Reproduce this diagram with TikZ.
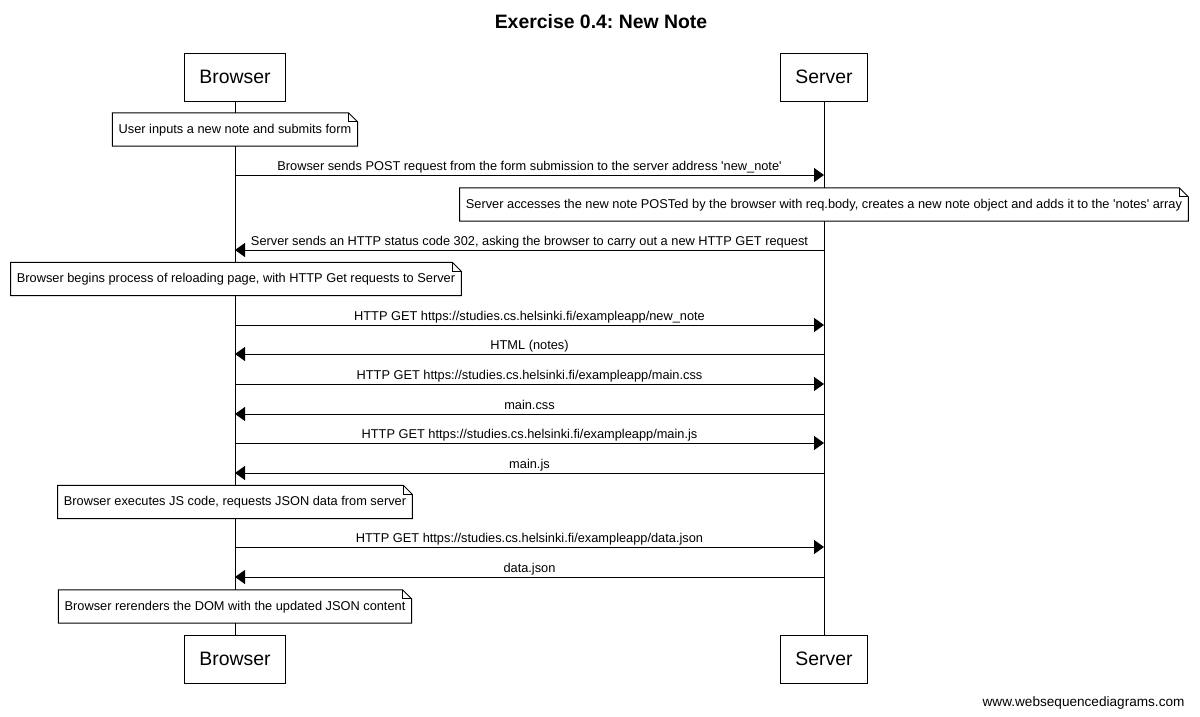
\documentclass[tikz,border=0pt]{standalone}
\usepackage{fontspec}
\setmainfont{Liberation Sans}
\usetikzlibrary{arrows.meta}
\frenchspacing

% note with a folded corner, centred on a lifeline
\newcommand{\seqnote}[4]{%
  \node[notetext] (#1) at (#2,#3) {#4};
  \draw[noteline] (#1.south west) -- (#1.north west) -- ([xshift=-9pt]#1.north east)
    -- ([yshift=-9pt]#1.north east) -- (#1.south east) -- cycle;
  \draw[noteline] ([xshift=-9pt]#1.north east) |- ([yshift=-9pt]#1.north east);
}

\begin{document}
\begin{tikzpicture}[x=1pt,y=-1pt,
  actor/.style={draw, fill=white, line width=1pt, inner xsep=14.5pt, minimum height=48pt, font=\fontsize{19.4}{22}\selectfont},
  notetext/.style={fill=white, inner xsep=6pt, minimum height=33pt, text height=9pt, text depth=2pt, font=\fontsize{12.8}{15}\selectfont},
  noteline/.style={line width=1pt, line join=miter},
  msg/.style={line width=1pt, -{Triangle[length=10pt,width=14pt]}},
  msglabel/.style={above, inner sep=1.5pt, text height=9pt, text depth=3pt, font=\fontsize{12.8}{15}\selectfont},
  lifeline/.style={line width=1pt}]
\useasboundingbox (0,0) rectangle (1200,716);

% Title
\node[font=\bfseries\fontsize{19.4}{22}\selectfont] (title) at (601,22) {Exercise 0.4: New Note};

% Participants
\node[actor] (browserTop) at (235,77) {Browser};
\node[actor] (serverTop) at (824,77) {Server};
\node[actor] (browserBot) at (235,659) {Browser};
\node[actor] (serverBot) at (824,659) {Server};

% Lifelines
\draw[lifeline] (browserTop.south) -- (browserBot.north);
\draw[lifeline] (serverTop.south) -- (serverBot.north);

% Message rows
\coordinate (m1) at (0,175);
\coordinate (m2) at (0,250);
\coordinate (m3) at (0,325);
\coordinate (m4) at (0,354);
\coordinate (m5) at (0,384);
\coordinate (m6) at (0,414);
\coordinate (m7) at (0,443);
\coordinate (m8) at (0,473);
\coordinate (m9) at (0,547);
\coordinate (m10) at (0,577);

% Notes
\seqnote{userNote}{235}{129.5}{User inputs a new note and submits form}
\seqnote{serverNote}{824}{204.5}{Server accesses the new note POSTed by the browser with req.body, creates a new note object and adds it to the \textquotesingle notes\textquotesingle\ array}
\seqnote{reloadNote}{236}{279}{Browser begins process of reloading page, with HTTP Get requests to Server}
\seqnote{jsNote}{235}{502}{Browser executes JS code, requests JSON data from server}
\seqnote{domNote}{235}{606.5}{Browser rerenders the DOM with the updated JSON content}

% Messages
\draw[msg] (browserTop |- m1) -- (serverTop |- m1) node[msglabel, midway] {Browser sends POST request from the form submission to the server address \textquotesingle new\_note\textquotesingle};
\draw[msg] (serverTop |- m2) -- (browserTop |- m2) node[msglabel, midway] {Server sends an HTTP status code 302, asking the browser to carry out a new HTTP GET request};
\draw[msg] (browserTop |- m3) -- (serverTop |- m3) node[msglabel, midway] {HTTP GET https://studies.cs.helsinki.fi/exampleapp/new\_note};
\draw[msg] (serverTop |- m4) -- (browserTop |- m4) node[msglabel, midway] {HTML (notes)};
\draw[msg] (browserTop |- m5) -- (serverTop |- m5) node[msglabel, midway] {HTTP GET https://studies.cs.helsinki.fi/exampleapp/main.css};
\draw[msg] (serverTop |- m6) -- (browserTop |- m6) node[msglabel, midway] {main.css};
\draw[msg] (browserTop |- m7) -- (serverTop |- m7) node[msglabel, midway] {HTTP GET https://studies.cs.helsinki.fi/exampleapp/main.js};
\draw[msg] (serverTop |- m8) -- (browserTop |- m8) node[msglabel, midway] {main.js};
\draw[msg] (browserTop |- m9) -- (serverTop |- m9) node[msglabel, midway] {HTTP GET https://studies.cs.helsinki.fi/exampleapp/data.json};
\draw[msg] (serverTop |- m10) -- (browserTop |- m10) node[msglabel, midway] {data.json};

% Watermark
\node[anchor=east, font=\fontsize{13.6}{16}\selectfont] (wsd) at (1188,703) {www.websequencediagrams.com};
\end{tikzpicture}
\end{document}
